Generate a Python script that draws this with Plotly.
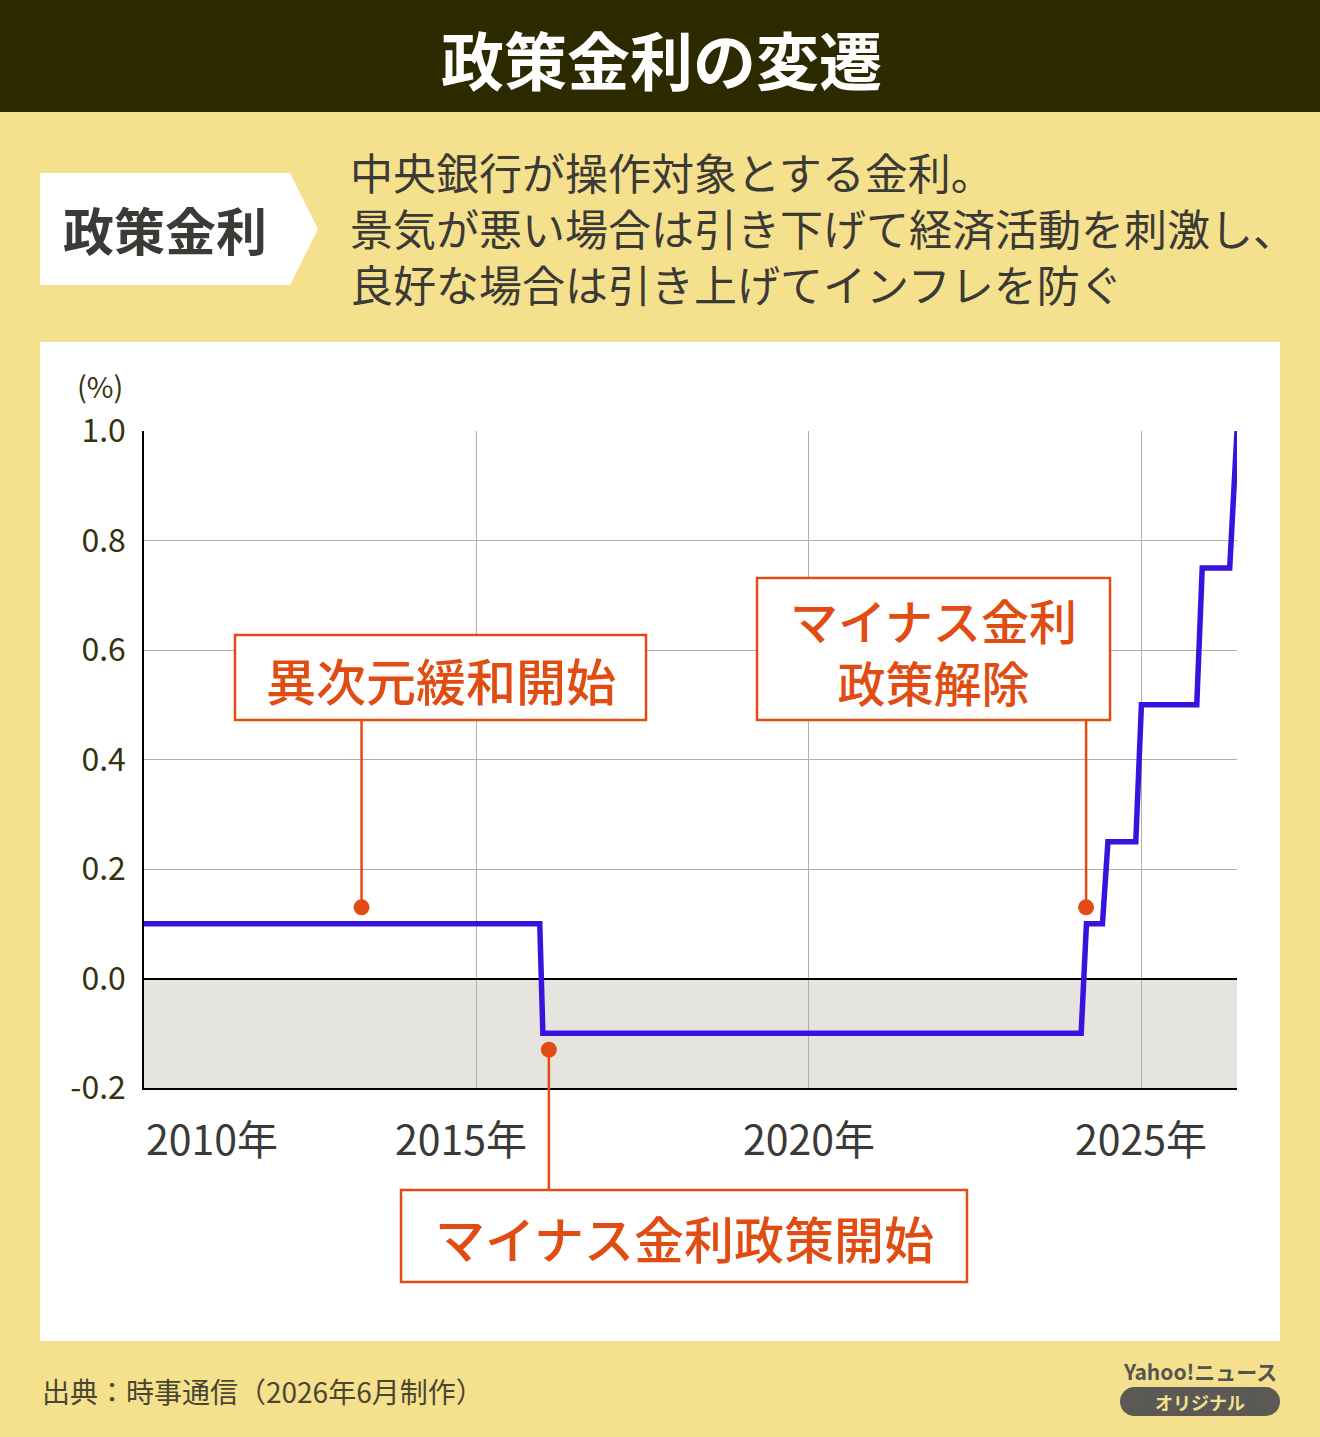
import plotly.graph_objects as go

# ---------------- data ----------------
dates = ["2010-01-01", "2015-12-15", "2016-01-01", "2024-02-05", "2024-03-05",
         "2024-06-01", "2024-07-01", "2024-12-01", "2025-01-01", "2025-11-01",
         "2025-12-01", "2026-05-01", "2026-06-10"]
rates = [0.1, 0.1, -0.1, -0.1, 0.1, 0.1, 0.25, 0.25, 0.5, 0.5, 0.75, 0.75, 1.0]

y_ticks = [-0.2, 0.0, 0.2, 0.4, 0.6, 0.8, 1.0]
y_ticktext = ["-0.2", "0.0", "0.2", "0.4", "0.6", "0.8", "1.0"]
x_grid = ["2015-01-01", "2020-01-01", "2025-01-01"]
x_labels = ["2010年", "2015年", "2020年", "2025年"]
x_label_pos = ["2010-01-01", "2014-10-08", "2020-01-01", "2025-01-01"]
x_label_anchor = ["left", "center", "center", "center"]

event_labels = ["異次元緩和開始", "マイナス金利政策開始", "マイナス金利<br>政策解除"]
event_dates = ["2013-04-10", "2016-02-03", "2024-03-03"]
event_dot_y = [0.13, -0.13, 0.13]

title = "政策金利の変遷"
term = "政策金利"
desc_lines = ["中央銀行が操作対象とする金利。",
              "景気が悪い場合は引き下げて経済活動を刺激し、",
              "良好な場合は引き上げてインフレを防ぐ"]
source = "出典：時事通信（2026年6月制作）"

# ---------------- layout helpers ----------------
W, H = 1320, 1437
def px(x): return x / W
def py(y): return 1 - y / H

PLOT_L, PLOT_R, PLOT_T, PLOT_B = 144, 1237, 431, 1088
Y_MIN, Y_MAX = -0.2, 1.0
def val_to_pix(v):
    return PLOT_B - (v - Y_MIN) / (Y_MAX - Y_MIN) * (PLOT_B - PLOT_T)

FONT = "Noto Sans CJK JP"
ORANGE = "#e04c12"
LINE = "#3a12de"
BG = "#f5e18d"
DARK = "#3b3a36"
OLIVE = "#35320f"

fig = go.Figure()

fig.add_trace(go.Scatter(x=dates, y=rates, mode="lines",
                         line=dict(color=LINE, width=5.5),
                         hoverinfo="skip", showlegend=False))
fig.add_trace(go.Scatter(x=event_dates, y=event_dot_y, mode="markers",
                         marker=dict(color=ORANGE, size=16),
                         cliponaxis=False, hoverinfo="skip", showlegend=False))

shapes = []
shapes.append(dict(type="rect", xref="paper", yref="paper", x0=0, x1=1,
                   y0=py(112), y1=1, fillcolor="#2e2a00", line=dict(width=0), layer="below"))
path = "M {} {} L {} {} L {} {} L {} {} L {} {} Z".format(
    px(40), py(173), px(290), py(173), px(318), py(229), px(290), py(285), px(40), py(285))
shapes.append(dict(type="path", xref="paper", yref="paper", path=path,
                   fillcolor="white", line=dict(width=0), layer="below"))
shapes.append(dict(type="rect", xref="paper", yref="paper", x0=px(40), x1=px(1280),
                   y0=py(1341), y1=py(342), fillcolor="white", line=dict(width=0), layer="below"))
shapes.append(dict(type="rect", xref="x domain", yref="y", x0=0, x1=1, y0=-0.2, y1=0,
                   fillcolor="#e6e4df", line=dict(width=0), layer="below"))

boxes = [(235, 635, 646, 720), (401, 1190, 967, 1282), (757, 578, 1110, 720)]
box_anchor_y = [720, 1190, 720]
box_text_y = [679, 1237, 650]
box_font = [50, 50, 48]
for (x0, y0, x1, y1) in boxes:
    shapes.append(dict(type="rect", xref="paper", yref="paper",
                       x0=px(x0), x1=px(x1), y0=py(y1), y1=py(y0),
                       fillcolor="white", line=dict(color=ORANGE, width=2.5), layer="above"))
for d, v, ay in zip(event_dates, event_dot_y, box_anchor_y):
    shapes.append(dict(type="line", xref="x", yref="paper", x0=d, x1=d,
                       y0=py(val_to_pix(v)), y1=py(ay),
                       line=dict(color=ORANGE, width=2.5), layer="above"))

shapes.append(dict(type="rect", xref="paper", yref="paper", x0=px(1134), x1=px(1266),
                   y0=py(1416), y1=py(1387), fillcolor="#5a5955", line=dict(width=0), layer="below"))
for cx in (1134.5, 1265.5):
    shapes.append(dict(type="circle", xref="paper", yref="paper", x0=px(cx - 14.5), x1=px(cx + 14.5),
                       y0=py(1416), y1=py(1387), fillcolor="#5a5955", line=dict(width=0), layer="below"))

annotations = []
annotations.append(dict(xref="paper", yref="paper", x=px(662), y=py(57), text="<b>%s</b>" % title,
                        showarrow=False, xanchor="center", yanchor="middle",
                        font=dict(family=FONT, size=63, color="white")))
annotations.append(dict(xref="paper", yref="paper", x=px(165), y=py(229), text="<b>%s</b>" % term,
                        showarrow=False, xanchor="center", yanchor="middle",
                        font=dict(family=FONT, size=51, color=DARK)))
annotations.append(dict(xref="paper", yref="paper", x=px(348), y=py(227), text="<br>".join(desc_lines),
                        showarrow=False, xanchor="left", yanchor="middle", align="left",
                        font=dict(family=FONT, size=43, color=DARK)))
annotations.append(dict(xref="paper", yref="paper", x=px(100), y=py(385), text="(%)",
                        showarrow=False, xanchor="center", yanchor="middle",
                        font=dict(family=FONT, size=29, color=OLIVE)))
for t, xp, xa in zip(x_labels, x_label_pos, x_label_anchor):
    annotations.append(dict(xref="x", yref="paper", x=xp, y=py(1137), text=t,
                            showarrow=False, xanchor=xa, yanchor="middle",
                            font=dict(family=FONT, size=41, color=DARK)))
for t, (x0, y0, x1, y1), yy, fs in zip(event_labels, boxes, box_text_y, box_font):
    annotations.append(dict(xref="paper", yref="paper", x=px((x0 + x1) / 2), y=py(yy),
                            text=t, showarrow=False, xanchor="center", yanchor="middle",
                            font=dict(family=FONT, size=fs, color=ORANGE, weight=500)))
annotations.append(dict(xref="paper", yref="paper", x=px(40), y=py(1391), text=source,
                        showarrow=False, xanchor="left", yanchor="middle",
                        font=dict(family=FONT, size=28, color="#4a4632")))
annotations.append(dict(xref="paper", yref="paper", x=px(1200), y=py(1371), text="<b>Yahoo!ニュース</b>",
                        showarrow=False, xanchor="center", yanchor="middle",
                        font=dict(family=FONT, size=21, color="#555550")))
annotations.append(dict(xref="paper", yref="paper", x=px(1200), y=py(1402), text="<b>オリジナル</b>",
                        showarrow=False, xanchor="center", yanchor="middle",
                        font=dict(family=FONT, size=18, color=BG)))

fig.update_layout(
    width=W, height=H, margin=dict(l=0, r=0, t=0, b=0, autoexpand=False),
    paper_bgcolor=BG, plot_bgcolor="white",
    font=dict(family=FONT),
    showlegend=False, hovermode=False,
    shapes=shapes, annotations=annotations,
    xaxis=dict(domain=[px(PLOT_L), px(PLOT_R)], type="date", automargin=False,
               range=["2010-01-01", "2026-06-10"],
               tickvals=x_grid, showticklabels=False, ticks="",
               showgrid=True, gridcolor="#b3b0a2", gridwidth=1,
               showline=True, linecolor="black", linewidth=1.5, zeroline=False),
    yaxis=dict(domain=[py(PLOT_B), py(PLOT_T)], range=[Y_MIN, Y_MAX], automargin=False,
               tickvals=y_ticks, ticktext=y_ticktext, ticks="",
               ticklabelstandoff=10,
               tickfont=dict(family=FONT, size=32, color=OLIVE),
               showgrid=True, gridcolor="#b3b0a2", gridwidth=1,
               showline=True, linecolor="black", linewidth=1.5,
               zeroline=True, zerolinecolor="black", zerolinewidth=2),
)

fig.write_html("out.html")
